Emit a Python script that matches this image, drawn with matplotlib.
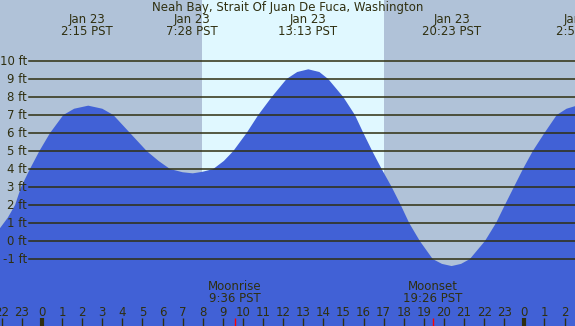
import numpy as np
import matplotlib
matplotlib.use("Agg")
import matplotlib.pyplot as plt

# tide height readings (hours from midnight Jan 23, feet)
hours = [-2.1, -1.7, -1.34, -1.04, -0.6, -0.13, 0.40, 1.06, 1.6, 2.3, 3.0, 3.55,
         4.38, 5.21, 5.8, 6.37, 7.0, 7.5, 8.0, 8.52, 9.05, 9.52, 10.18, 10.76,
         11.43, 12.17, 12.7, 13.25, 13.8, 14.24, 14.99, 15.57, 15.99, 16.43,
         16.9, 17.4, 17.85, 18.27, 18.8, 19.44, 19.9, 20.38, 20.85, 21.29,
         22.04, 22.59, 23.03, 23.48, 23.93, 24.42, 25.0, 25.61, 26.1, 26.6]
heights = [0.7, 1.3, 2.0, 3.0, 4.0, 5.0, 6.0, 7.0, 7.35, 7.52, 7.35, 7.0,
           6.0, 5.0, 4.45, 4.0, 3.82, 3.76, 3.85, 4.0, 4.45, 5.0, 6.0, 7.0,
           8.0, 9.0, 9.39, 9.54, 9.39, 9.0, 8.0, 7.0, 6.0, 5.0,
           4.0, 3.0, 2.0, 1.0, 0.0, -1.0, -1.27, -1.39, -1.27, -1.0,
           0.0, 1.0, 2.0, 3.0, 4.0, 5.0, 6.0, 7.0, 7.35, 7.52]

# high / low tide labels
tide_hours = [2.25, 7.47, 13.22, 20.38, 26.87]
tide_dates = ["Jan 23", "Jan 23", "Jan 23", "Jan 23", "Jan 24"]
tide_times = ["2:15 PST", "7:28 PST", "13:13 PST", "20:23 PST", "2:52 PST"]

sunrise, sunset = 7.96, 17.01
moon_hours = [9.6, 19.43]
moon_names = ["Moonrise", "Moonset"]
moon_times = ["9:36 PST", "19:26 PST"]

ft_levels = list(range(-1, 11))
hour_ticks = list(range(-2, 27))

night = "#b0c2d8"
day = "#e0f8ff"
water = "#4161d6"
ink = "#2f2f10"
fs = 8.5

fig = plt.figure(figsize=(5.75, 3.26), dpi=100)
ax = fig.add_axes([0, 0, 1, 1])
x0, x1 = -2.09, 26.52
y0, y1 = -4.72, 13.39
ax.set_xlim(x0, x1)
ax.set_ylim(y0, y1)
ax.axis("off")
fig.patch.set_facecolor(night)

ax.axvspan(sunrise, sunset, color=day, lw=0, zorder=1)
ax.fill_between(hours, heights, y0, color=water, lw=0, zorder=2)

for lv in ft_levels:
    ax.axhline(lv, xmin=29 / 575, xmax=1, color=ink, lw=1.1, zorder=3)
    ax.text(27 / 575, lv, f"{lv} ft", transform=ax.get_yaxis_transform(),
            ha="right", va="center", fontsize=fs, color=ink, zorder=4)

xt = ax.get_xaxis_transform()
for h in hour_ticks:
    lw = 3 if h % 24 == 0 else 1
    ax.vlines(h, 0, 8 / 326, transform=xt, color=ink, lw=lw, zorder=4)
    ax.text(h, 1 - 312 / 326, str(h % 24), transform=xt, ha="center",
            va="center", fontsize=fs, color=ink, zorder=4)

for mh, name, t in zip(moon_hours, moon_names, moon_times):
    ax.vlines(mh, 0, 8 / 326, transform=xt, color="red", lw=1, zorder=4)
    ax.text(mh, 1 - 286 / 326, name, transform=xt, ha="center", va="center",
            fontsize=fs, color=ink, zorder=4)
    ax.text(mh, 1 - 298.5 / 326, t, transform=xt, ha="center", va="center",
            fontsize=fs, color=ink, zorder=4)

for th, d, t in zip(tide_hours, tide_dates, tide_times):
    ax.text(th, 1 - 19 / 326, d, transform=xt, ha="center", va="center",
            fontsize=fs, color=ink, zorder=4, clip_on=False)
    ax.text(th, 1 - 31.5 / 326, t, transform=xt, ha="center", va="center",
            fontsize=fs, color=ink, zorder=4, clip_on=False)

ax.text(0.5, 1 - 7 / 326, "Neah Bay, Strait Of Juan De Fuca, Washington",
        transform=ax.transAxes, ha="center", va="center", fontsize=fs,
        color=ink, zorder=4)

fig.savefig("out.png", dpi=100, facecolor=night)
